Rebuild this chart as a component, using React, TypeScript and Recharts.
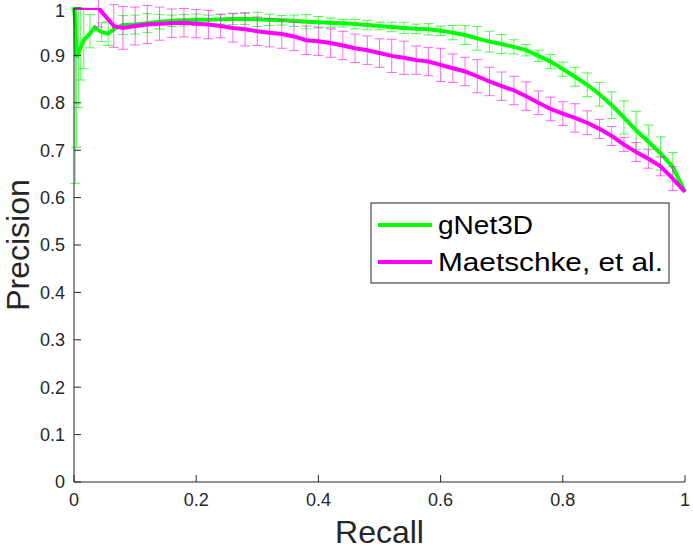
import { LineChart, Line, XAxis, YAxis, ErrorBar } from 'recharts';

// gNet3D (green)
const gRecall = [0, 0.002, 0.004, 0.007, 0.011, 0.016, 0.026, 0.034, 0.045, 0.056, 0.067, 0.08,
  0.1, 0.12, 0.14, 0.16, 0.18, 0.2, 0.22, 0.24, 0.26, 0.28, 0.3, 0.32, 0.34, 0.36, 0.38, 0.4,
  0.42, 0.44, 0.46, 0.48, 0.5, 0.52, 0.54, 0.56, 0.58, 0.6, 0.62, 0.64, 0.66, 0.68, 0.7,
  0.72, 0.74, 0.76, 0.78, 0.8, 0.82, 0.84, 0.86, 0.88, 0.9, 0.92, 0.94, 0.96, 0.98, 1];
const gPrecision = [1, 0.97, 0.896, 0.905, 0.918, 0.932, 0.946, 0.959, 0.949, 0.946, 0.957, 0.964,
  0.965, 0.968, 0.971, 0.973, 0.974, 0.975, 0.975, 0.976, 0.977, 0.977, 0.976, 0.975, 0.974, 0.973, 0.971, 0.97,
  0.969, 0.968, 0.966, 0.964, 0.962, 0.96, 0.958, 0.956, 0.955, 0.952, 0.948, 0.943, 0.936, 0.929, 0.924,
  0.918, 0.911, 0.899, 0.887, 0.871, 0.855, 0.838, 0.818, 0.795, 0.769, 0.742, 0.718, 0.693, 0.665, 0.612];
const gErr: (number | [number, number] | null)[] = [null, [0.34, 0.03], [0.19, 0.104], [0.115, 0.095], [0.07, 0.08], [0.06, 0.068], [0.03, 0.04], null, 0.02, 0.025, null, 0.02,
  0.02, 0.02, 0.015, 0.012, 0.012, 0.012, 0.01, 0.01, 0.012, 0.012, 0.015, 0.012, 0.01, 0.012, 0.015, 0.012,
  0.01, 0.008, 0.01, 0.01, 0.008, 0.01, 0.012, 0.01, 0.012, 0.01, 0.015, 0.02, 0.025, 0.022, 0.02,
  0.015, 0.012, 0.012, 0.015, 0.015, 0.02, 0.025, 0.025, 0.028, 0.035, 0.04, 0.035, 0.035, 0.03, null];

// Maetschke, et al. (magenta)
const mRecall = [0, 0.02, 0.04, 0.05, 0.065, 0.08, 0.1, 0.12, 0.14, 0.16, 0.18, 0.2, 0.22, 0.24,
  0.26, 0.28, 0.3, 0.32, 0.34, 0.36, 0.38, 0.4, 0.42, 0.44, 0.46, 0.48, 0.5, 0.52, 0.54, 0.56,
  0.58, 0.6, 0.62, 0.64, 0.66, 0.68, 0.7, 0.72, 0.74, 0.76, 0.78, 0.8, 0.82, 0.84, 0.86, 0.88,
  0.9, 0.92, 0.94, 0.96, 0.98, 1];
const mPrecision = [1, 1, 1, 0.985, 0.962, 0.958, 0.962, 0.965, 0.967, 0.968, 0.969, 0.967, 0.965, 0.962,
  0.958, 0.955, 0.951, 0.948, 0.945, 0.94, 0.932, 0.93, 0.926, 0.921, 0.915, 0.911, 0.905, 0.899, 0.895, 0.89,
  0.887, 0.88, 0.873, 0.866, 0.856, 0.845, 0.835, 0.826, 0.814, 0.8, 0.787, 0.777, 0.768, 0.758, 0.745, 0.73,
  0.712, 0.696, 0.682, 0.666, 0.64, 0.612];
const mErr: (number | [number, number] | null)[] = [null, null, [0.04, 0.02], null, 0.045, 0.045, 0.04, 0.04, 0.035, 0.03, 0.03, 0.03, 0.03, 0.025,
  0.03, 0.035, 0.03, 0.03, 0.03, 0.03, 0.03, 0.03, 0.03, 0.03, 0.03, 0.03, 0.03, 0.035, 0.035, 0.03,
  0.03, 0.035, 0.03, 0.03, 0.035, 0.03, 0.03, 0.03, 0.03, 0.025, 0.025, 0.025, 0.03, 0.025, 0.02, 0.02,
  0.015, 0.02, 0.02, 0.02, 0.025, null];

const xTicks = [0, 0.2, 0.4, 0.6, 0.8, 1];
const yTicks = [0, 0.1, 0.2, 0.3, 0.4, 0.5, 0.6, 0.7, 0.8, 0.9, 1];

const FONT = '"Liberation Sans", Arial, Helvetica, sans-serif';
const AXIS = '#262626';
const GREEN = '#00ff00';
const MAGENTA = '#ff00ff';

const gData = gRecall.map((r, i) => ({ r, p: gPrecision[i], e: gErr[i] ?? undefined }));
const mData = mRecall.map((r, i) => ({ r, p: mPrecision[i], e: mErr[i] ?? undefined }));

const tickStyle = { fontSize: 18, fill: AXIS, fontFamily: FONT };

// y tick label, kept inside the page at the very top
const YTick = (props: any) => {
  const { x, y, payload } = props;
  return (
    <text x={x} y={Math.max(y, 11)} dy="0.355em" textAnchor="end" fontSize={18} fontFamily={FONT} fill={AXIS}>
      {payload.value}
    </text>
  );
};

const PrecisionLabel = (props: any) => {
  const vb = props.viewBox || { x: 0, y: 8, height: 474 };
  const cx = vb.x + 29;
  const cy = vb.y + vb.height / 2;
  return (
    <text x={cx} y={cy} transform={`rotate(-90, ${cx}, ${cy})`} textAnchor="middle"
      fontSize={32} fontFamily={FONT} fill={AXIS}>
      Precision
    </text>
  );
};

const LegendBox = () => (
  <svg width={300} height={82} style={{ position: 'absolute', left: 370, top: 202 }}>
    <rect x={1} y={1} width={298} height={80} fill="#fff" stroke={AXIS} strokeWidth={1} />
    <line x1={8} y1={23} x2={62} y2={23} stroke={GREEN} strokeWidth={4} />
    <text x={68} y={31.5} fontSize={25} fontFamily={FONT} fill="#000" textLength={95} lengthAdjust="spacingAndGlyphs">gNet3D</text>
    <line x1={8} y1={60} x2={62} y2={60} stroke={MAGENTA} strokeWidth={4} />
    <text x={68} y={68.5} fontSize={25} fontFamily={FONT} fill="#000" textLength={225} lengthAdjust="spacingAndGlyphs">Maetschke, et al.</text>
  </svg>
);

export default function App() {
  return (
    <div style={{ position: 'absolute', left: 0, top: 0, width: 693, height: 550, background: '#fff' }}>
      <LineChart width={693} height={550} margin={{ top: 8, right: 8, left: 0, bottom: 0 }}>
        <XAxis
          xAxisId={0}
          dataKey="r"
          type="number"
          domain={[0, 1]}
          ticks={xTicks}
          interval={0}
          height={68}
          stroke={AXIS}
          tickSize={-7}
          tickMargin={18}
          tick={tickStyle}
          label={{ value: 'Recall', position: 'insideBottom', offset: 7, fontSize: 32, fill: AXIS, fontFamily: FONT }}
        />
        <XAxis
          xAxisId="top"
          orientation="top"
          type="number"
          domain={[0, 1]}
          ticks={xTicks}
          interval={0}
          height={0}
          stroke={AXIS}
          tickSize={-7}
          tickFormatter={() => ''}
        />
        <YAxis
          yAxisId={0}
          type="number"
          domain={[0, 1]}
          allowDataOverflow
          ticks={yTicks}
          interval={0}
          width={74}
          stroke={AXIS}
          tickSize={-7}
          tickMargin={16}
          tick={<YTick />}
          label={<PrecisionLabel />}
        />
        <YAxis
          yAxisId="right"
          orientation="right"
          type="number"
          domain={[0, 1]}
          ticks={yTicks}
          interval={0}
          width={0}
          stroke={AXIS}
          tickSize={-7}
          tickFormatter={() => ''}
        />
        <Line data={gData} dataKey="p" type="linear" stroke={GREEN} strokeWidth={4} dot={false} isAnimationActive={false}>
          <ErrorBar dataKey="e" direction="y" width={5} stroke={GREEN} strokeWidth={1} strokeOpacity={0.7} isAnimationActive={false} />
        </Line>
        <Line data={mData} dataKey="p" type="linear" stroke={MAGENTA} strokeWidth={4} dot={false} isAnimationActive={false}>
          <ErrorBar dataKey="e" direction="y" width={5} stroke={MAGENTA} strokeWidth={1} strokeOpacity={0.6} isAnimationActive={false} />
        </Line>
      </LineChart>
      <LegendBox />
    </div>
  );
}
